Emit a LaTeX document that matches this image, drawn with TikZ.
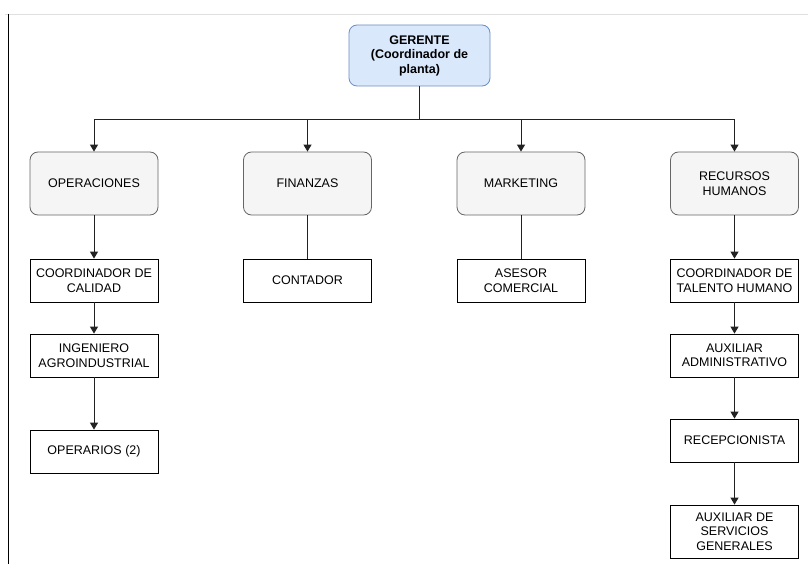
\documentclass[tikz,border=0pt]{standalone}
\usepackage{fontspec}
\setmainfont{Liberation Sans}
\usetikzlibrary{arrows.meta,positioning}
\definecolor{gerfill}{HTML}{DAE8FC}
\definecolor{gerline}{HTML}{6C8EBF}
\definecolor{depfill}{HTML}{F5F5F5}
\definecolor{depline}{HTML}{666666}
\definecolor{conn}{HTML}{222222}
\definecolor{frameline}{HTML}{E0E0E0}
\begin{document}
\begin{tikzpicture}[x=1pt,y=-1pt,
  every node/.style={font=\fontsize{12.5}{14.5}\selectfont, align=center, inner sep=0pt},
  gerbox/.style={draw=gerline, fill=gerfill, rounded corners=8pt, minimum width=141pt, minimum height=61pt, line width=0.8pt, font=\fontsize{12.5}{14.5}\selectfont\bfseries},
  depbox/.style={draw=depline, fill=depfill, rounded corners=8pt, minimum width=128pt, minimum height=63pt, line width=0.8pt},
  rolebox/.style={draw=black, fill=white, minimum width=128pt, minimum height=43pt, line width=0.8pt},
  link/.style={draw=conn, line width=1pt},
  arr/.style={link, -{Triangle[width=8pt,length=7pt]}}
]
\useasboundingbox (0,0) rectangle (808,564);
\fill[white] (0,0) rectangle (808,564);
% frame lines
\coordinate (ftl) at (5,14);
\coordinate (ftr) at (808,14);
\coordinate (fbl) at (8,564);
\draw[frameline, line width=0.8pt] (ftl) -- (ftr);
\draw[black, line width=0.9pt] (8,14) -- (fbl);

% nodes
\node[gerbox] (g) at (419.5,55.5) {GERENTE\\(Coordinador de\\planta)};

\node[depbox] (op) at (94,183.5) {OPERACIONES};
\node[depbox] (fi) at (307.5,183.5) {FINANZAS};
\node[depbox] (ma) at (521,183.5) {MARKETING};
\node[depbox] (rh) at (734.5,183.5) {RECURSOS\\HUMANOS};

\node[rolebox] (cc) at (94,280.5) {COORDINADOR DE\\CALIDAD};
\node[rolebox] (co) at (307.5,280.5) {CONTADOR};
\node[rolebox] (as) at (521,280.5) {ASESOR\\COMERCIAL};
\node[rolebox] (ct) at (734.5,280.5) {COORDINADOR DE\\TALENTO HUMANO};

\node[rolebox] (ia) at (94,355.5) {INGENIERO\\AGROINDUSTRIAL};
\node[rolebox] (aa) at (734.5,355.5) {AUXILIAR\\ADMINISTRATIVO};

\node[rolebox] (opr) at (94,451.5) {OPERARIOS (2)};
\node[rolebox] (re) at (734.5,440.5) {RECEPCIONISTA};

\node[rolebox, minimum height=53pt] (sg) at (734.5,531.5) {AUXILIAR DE\\SERVICIOS\\GENERALES};

% bus
\coordinate (bus) at (419.5,120);
\draw[link] (g.south) -- (bus);
\draw[arr] (bus) -| (op.north);
\draw[arr] (bus) -| (fi.north);
\draw[arr] (bus) -| (ma.north);
\draw[arr] (bus) -| (rh.north);

% vertical chains
\draw[arr] (op.south) -- (cc.north);
\draw[arr] (cc.south) -- (ia.north);
\draw[arr] (ia.south) -- (opr.north);
\draw[link] (fi.south) -- (co.north);
\draw[link] (ma.south) -- (as.north);
\draw[arr] (rh.south) -- (ct.north);
\draw[arr] (ct.south) -- (aa.north);
\draw[arr] (aa.south) -- (re.north);
\draw[arr] (re.south) -- (sg.north);
\end{tikzpicture}
\end{document}
